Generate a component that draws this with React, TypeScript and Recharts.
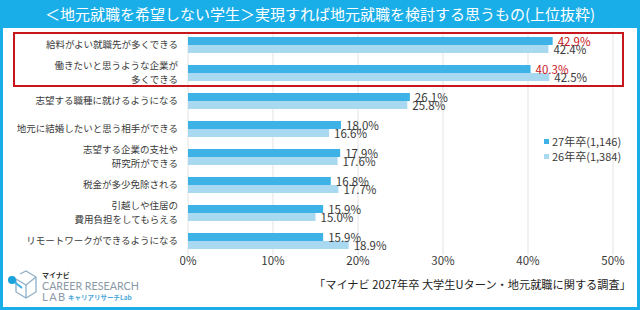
import React from "react";
import {
  BarChart,
  Bar,
  XAxis,
  YAxis,
  CartesianGrid,
  LabelList,
} from "recharts";

const categories = [
  "給料がよい就職先が多くできる",
  "働きたいと思うような企業が\n多くできる",
  "志望する職種に就けるようになる",
  "地元に結婚したいと思う相手ができる",
  "志望する企業の支社や\n研究所ができる",
  "税金が多少免除される",
  "引越しや住居の\n費用負担をしてもらえる",
  "リモートワークができるようになる",
];
const values27 = [42.9, 40.3, 26.1, 18.0, 17.9, 16.8, 15.9, 15.9];
const values26 = [42.4, 42.5, 25.8, 16.6, 17.6, 17.7, 15.0, 18.9];
const highlighted = [true, true, false, false, false, false, false, false];
const xTicks = [0, 10, 20, 30, 40, 50];
const seriesNames = ["27年卒(1,146)", "26年卒(1,384)"];
const titleText = "＜地元就職を希望しない学生＞実現すれば地元就職を検討する思うもの(上位抜粋)";
const sourceText = "「マイナビ 2027年卒 大学生Uターン・地元就職に関する調査」";

const data = categories.map((c, i) => ({
  name: c,
  v27: values27[i],
  v26: values26[i],
}));

const CYAN = "#19aee8";
const DARK = "#3cb2e6";
const LIGHT = "#a8d9f0";
const RED = "#c8161d";
const TEXT = "#3a3a3a";
const JP = "'Noto Sans CJK JP', 'Noto Sans', sans-serif";

const YTick = (props: any) => {
  const { x, y, payload } = props;
  const lines = String(payload.value).split("\n");
  const lh = 14;
  const start = y - ((lines.length - 1) * lh) / 2;
  return (
    <text x={x} y={start} textAnchor="end" fontSize={9.5} fill={TEXT} fontFamily={JP}>
      {lines.map((l: string, i: number) => (
        <tspan key={i} x={x} y={start + i * lh} dy="0.35em">
          {l}
        </tspan>
      ))}
    </text>
  );
};

const makeLabel = (series: "v27" | "v26") => (props: any) => {
  const { x, y, width, height, value, index } = props;
  const red = series === "v27" && highlighted[index];
  return (
    <text
      x={x + width + 5}
      y={y + height / 2 + 1}
      dy="0.35em"
      fontSize={11.5}
      fill={red ? RED : TEXT}
      fontFamily={JP}
    >
      {Number(value).toFixed(1)}%
    </text>
  );
};

export default function App() {
  return (
    <div
      style={{
        position: "fixed",
        left: 0,
        top: 0,
        width: 640,
        height: 310,
        background: "#fff",
        overflow: "hidden",
      }}
    >
      <BarChart
        width={640}
        height={310}
        data={data}
        layout="vertical"
        margin={{ top: 31, right: 27, bottom: 35, left: 0 }}
        barSize={8}
        barGap={0}
      >
        <CartesianGrid horizontal={false} stroke="#e3e3e3" strokeWidth={1} />
        <XAxis
          type="number"
          domain={[0, 50]}
          ticks={xTicks}
          tickFormatter={(v: number) => `${v}%`}
          axisLine={false}
          tickLine={false}
          tickSize={0}
          tickMargin={2}
          height={20}
          tick={{ fontSize: 11.5, fill: TEXT, fontFamily: JP }}
        />
        <YAxis
          type="category"
          dataKey="name"
          width={188}
          axisLine={false}
          tickLine={false}
          tickSize={0}
          tickMargin={10}
          interval={0}
          tick={<YTick />}
        />
        <Bar dataKey="v27" name={seriesNames[0]} fill={DARK} isAnimationActive={false}>
          <LabelList dataKey="v27" content={makeLabel("v27")} />
        </Bar>
        <Bar dataKey="v26" name={seriesNames[1]} fill={LIGHT} isAnimationActive={false}>
          <LabelList dataKey="v26" content={makeLabel("v26")} />
        </Bar>
      </BarChart>

      {/* Legend */}
      <div
        style={{
          position: "absolute",
          left: 544,
          top: 134,
          fontFamily: JP,
          fontSize: 11,
          color: TEXT,
          lineHeight: "15px",
          whiteSpace: "nowrap",
        }}
      >
        {seriesNames.map((n, i) => (
          <div key={n} style={{ display: "flex", alignItems: "center" }}>
            <span
              style={{
                display: "inline-block",
                width: 5,
                height: 5,
                background: i === 0 ? DARK : LIGHT,
                marginRight: 3,
              }}
            />
            <span>{n}</span>
          </div>
        ))}
      </div>

      {/* Title bar */}
      <div
        style={{
          position: "absolute",
          left: 0,
          top: 0,
          width: 640,
          height: 28,
          background: CYAN,
          color: "#fff",
          fontFamily: JP,
          fontSize: 15,
          lineHeight: "28px",
          textAlign: "center",
          whiteSpace: "nowrap",
        }}
      >
        {titleText}
      </div>
      {/* Frame */}
      <div
        style={{
          position: "absolute",
          left: 0,
          top: 0,
          width: 640,
          height: 310,
          boxSizing: "border-box",
          border: `3px solid ${CYAN}`,
          pointerEvents: "none",
        }}
      />
      {/* Red highlight box */}
      <div
        style={{
          position: "absolute",
          left: 13,
          top: 32,
          width: 611,
          height: 55,
          boxSizing: "border-box",
          border: `2px solid ${RED}`,
          pointerEvents: "none",
        }}
      />
      {/* Source */}
      <div
        style={{
          position: "absolute",
          left: 314,
          top: 276,
          fontFamily: JP,
          fontSize: 11.2,
          color: "#222",
          whiteSpace: "nowrap",
        }}
      >
        {sourceText}
      </div>
      {/* Logo */}
      <svg style={{ position: "absolute", left: 0, top: 262 }} width={160} height={44}>
        <g fill="none" stroke="#8fb0c8" strokeWidth={1.3}>
          <polyline points="16,17 16,30 26,36 36,30 36,15 26,9 20,12" />
          <polyline points="16,17 26,23 36,15" />
          <line x1={26} y1={23} x2={26} y2={36} />
        </g>
        <line x1={12} y1={18} x2={22} y2={26} stroke="#3cb2e6" strokeWidth={2} />
        <circle cx={12} cy={18} r={4} fill="#1aa3dc" />
        <text x={42} y={16} fontSize={7} fontWeight="bold" fill="#333" fontFamily={JP}>
          マイナビ
        </text>
        <text x={42} y={28} fontSize={10.7} fill="#8a98a6" fontFamily="Lato, 'Noto Sans', sans-serif">
          CAREER RESEARCH
        </text>
        <text x={42} y={39} fontSize={11} fill="#8a98a6" fontFamily="Lato, 'Noto Sans', sans-serif" letterSpacing={1.5}>
          LAB
        </text>
        <text x={68} y={38} fontSize={6.5} fontWeight="bold" fill="#4aa6d8" fontFamily={JP}>
          キャリアリサーチLab
        </text>
      </svg>
    </div>
  );
}
